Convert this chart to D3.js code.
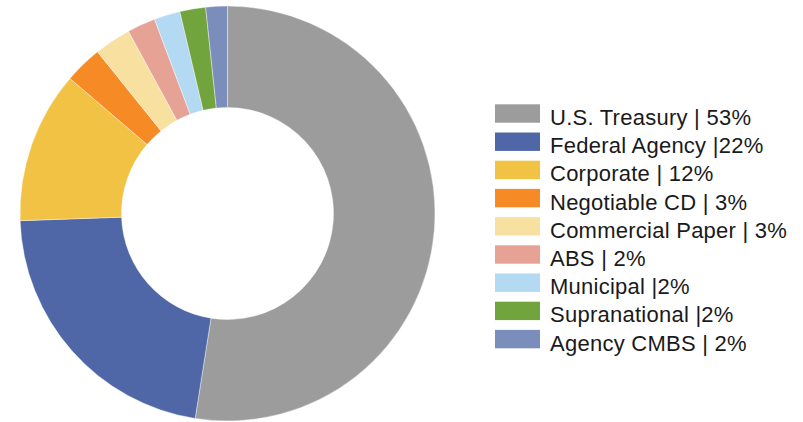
<!DOCTYPE html>
<html>
<head>
<meta charset="utf-8">
<script src="https://cdn.jsdelivr.net/npm/d3@7"></script>
<style>
  html, body { margin: 0; padding: 0; background: #fff; }
  svg { display: block; }
</style>
</head>
<body>
<svg id="chart" width="803" height="422"></svg>
<script>
const categories = ["U.S. Treasury", "Federal Agency", "Corporate", "Negotiable CD", "Commercial Paper", "ABS", "Municipal", "Supranational", "Agency CMBS"];
const values = [52.49, 21.96, 11.83, 2.94, 2.86, 2.2, 2.03, 2.01, 1.68];
const legendLabels = ["U.S. Treasury | 53%", "Federal Agency |22%", "Corporate | 12%", "Negotiable CD | 3%", "Commercial Paper | 3%", "ABS | 2%", "Municipal |2%", "Supranational |2%", "Agency CMBS | 2%"];
const colors = ["#9C9C9C", "#4F67A6", "#F2C244", "#F68B26", "#F8E0A0", "#E6A395", "#B4D9F2", "#72A43E", "#7B8EBB"];

const svg = d3.select("#chart");
const cx = 227.5, cy = 213.5, rOuter = 207.5, rInner = 106;

const color = d3.scaleOrdinal().domain(categories).range(colors);
const data = categories.map((c, i) => ({ cat: c, value: values[i] }));

const pie = d3.pie().value(d => d.value).sort(null);
const arc = d3.arc().innerRadius(rInner).outerRadius(rOuter);

svg.append("g")
  .attr("transform", `translate(${cx},${cy})`)
  .selectAll("path")
  .data(pie(data))
  .join("path")
  .attr("d", arc)
  .attr("fill", d => color(d.data.cat))
  .attr("stroke", "#fff")
  .attr("stroke-width", 0.4);

const legendX = 495, legendY0 = 113.5, pitch = 28.2;
const lg = svg.append("g");
const rows = lg.selectAll("g").data(categories).join("g")
  .attr("transform", (d, i) => `translate(${legendX},${legendY0 + i * pitch})`);
rows.append("rect")
  .attr("x", 0).attr("y", -9.2)
  .attr("width", 45).attr("height", 18.4)
  .attr("fill", d => color(d));
rows.append("text")
  .attr("x", 55).attr("y", 11.5)
  .attr("font-family", "Arial, 'Liberation Sans', sans-serif")
  .attr("font-size", 22)
  .attr("letter-spacing", "0.25px")
  .attr("fill", "#1a1a1a")
  .text((d, i) => legendLabels[i]);
</script>
</body>
</html>
